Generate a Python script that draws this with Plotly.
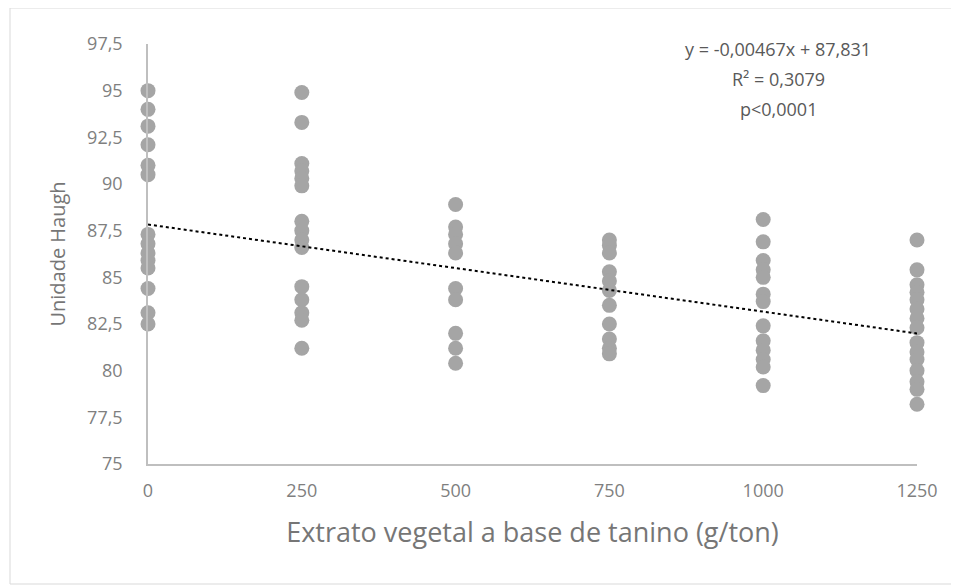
import plotly.graph_objects as go

doses = [0, 250, 500, 750, 1000, 1250]
haugh_0 = [95.0, 94.0, 93.1, 92.1, 91.0, 90.5, 87.3, 86.8, 86.3, 85.9, 85.5, 84.4, 83.1, 82.5]
haugh_250 = [94.9, 93.3, 91.1, 90.7, 90.3, 89.9, 88.0, 87.5, 87.0, 86.6, 84.5, 83.8, 83.1, 82.7, 81.2]
haugh_500 = [88.9, 87.7, 87.3, 86.8, 86.3, 84.4, 83.8, 82.0, 81.2, 80.4]
haugh_750 = [87.0, 86.7, 86.3, 85.3, 84.8, 84.3, 83.5, 82.5, 81.7, 81.2, 80.9]
haugh_1000 = [88.1, 86.9, 85.9, 85.4, 85.0, 84.1, 83.7, 82.4, 81.6, 81.1, 80.6, 80.2, 79.2]
haugh_1250 = [87.0, 85.4, 84.6, 84.2, 83.8, 83.3, 82.8, 82.3, 81.5, 81.0, 80.6, 80.0, 79.4, 79.0, 78.2]
groups = [haugh_0, haugh_250, haugh_500, haugh_750, haugh_1000, haugh_1250]

slope = -0.00467
intercept = 87.831
trend_x = [0, 1250]
y_ticks = [75, 77.5, 80, 82.5, 85, 87.5, 90, 92.5, 95, 97.5]
x_ticks = [0, 250, 500, 750, 1000, 1250]
eq_lines = ["y = -0,00467x + 87,831", "R² = 0,3079", "p<0,0001"]

xs, ys = [], []
for d, g in zip(doses, groups):
    xs += [d] * len(g)
    ys += g

fig = go.Figure()
fig.add_trace(go.Scatter(x=xs, y=ys, mode="markers", cliponaxis=False,
                         marker=dict(color="#A5A5A5", size=15), showlegend=False))
fig.add_trace(go.Scatter(x=trend_x, y=[intercept + slope * v for v in trend_x], mode="lines",
                         cliponaxis=False,
                         line=dict(color="black", width=2, dash="dot"), showlegend=False))

# page offset of 8px (body margin) compensated in margins
PX0, PX1, PY0, PY1 = 148, 917, 464, 44
W = PX1 - PX0
H = PY0 - PY1


def px(x):
    return (x - PX0) / W


def py(y):
    return (PY0 - y) / H


font_fam = "Open Sans, Lato, sans-serif"
tick_col = "#7F7F7F"
annots = []
for i, (t, yy) in enumerate(zip(eq_lines, [49, 79, 109])):
    annots.append(dict(xref="paper", yref="paper", x=px(778), y=py(yy), xanchor="center",
                       yanchor="middle", text=t, showarrow=False,
                       font=dict(size=18, color="#595959")))

fig.update_layout(
    width=959, height=586,
    margin=dict(l=PX0 - 8, r=959 - PX1 + 8, t=PY1 - 8, b=586 - PY0 + 8),
    paper_bgcolor="white", plot_bgcolor="white",
    separators=", ",
    font=dict(family=font_fam, color=tick_col, size=18),
    xaxis=dict(range=[0, 1250], tickvals=x_ticks, showgrid=False, zeroline=False,
               showline=True, linecolor="#BFBFBF", linewidth=1.5, ticks="",
               ticklabelstandoff=10, tickfont=dict(size=18, color=tick_col),
               title=dict(text="Extrato vegetal a base de tanino (g/ton)",
                          font=dict(size=27, color="#767676"), standoff=22)),
    yaxis=dict(range=[75, 97.5], tickvals=y_ticks, showgrid=False, zeroline=False,
               showline=True, linecolor="#BFBFBF", linewidth=1.5, ticks="",
               ticklabelstandoff=20, tickfont=dict(size=18, color=tick_col),
               title=dict(text="Unidade Haugh", font=dict(size=20, color="#767676"), standoff=16)),
    annotations=annots,
    shapes=[dict(type="rect", xref="paper", yref="paper",
                 x0=px(10), x1=px(952), y0=py(584), y1=py(8),
                 line=dict(color="#D9D9D9", width=1), layer="below")],
)
fig.write_html("out.html")
